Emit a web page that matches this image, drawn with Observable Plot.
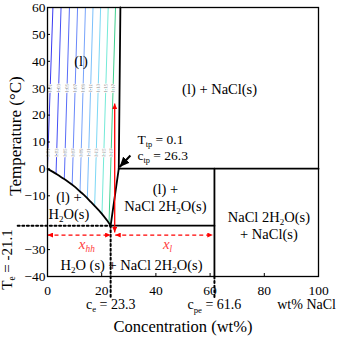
<!DOCTYPE html>
<html><head><meta charset="utf-8">
<script src="https://cdn.jsdelivr.net/npm/d3@7"></script>
<script src="https://cdn.jsdelivr.net/npm/@observablehq/plot@0.6"></script>
<style>
body{margin:0;background:#fff}
#chart svg{font-family:"Liberation Serif",serif;}
</style>
</head><body><div id="chart"></div>
<script>
// ---------- data ----------
const xTicks = [0, 20, 40, 60, 80, 100];
const yTickLabels = [60, 50, 40, 30, 20, 10, 0, -10, -30, -40];

// phase boundaries (wt% NaCl, °C)
const iceCurve = [[0,0],[2,-1.1],[4,-2.4],[6,-3.7],[8,-5.1],[10,-6.6],[12,-8.4],[14,-10.2],[16,-12.3],[18,-14.4],[20,-16.6],[22,-19.2],[23.3,-21.1]];
const haliteCurve = [[26.3,0.1],[26.9,60]];
const hydrohaliteCurve = [[23.3,-21.1],[26.3,0.1]];
const tripleLine = [[26.3,0.1],[100,0.1]];
const eutecticLine = [[23.3,-21.1],[61.6,-21.1]];
const peritecticLine = [[61.6,0.1],[61.6,-40]];

// key values
const Te = -21.1, ce = 23.3, cpe = 61.6;
const dottedTe = [[-11,Te],[ce,Te]];
const dottedCe = [[ce,Te],[ce,-48.2]];
const dottedCpe = [[cpe,-40],[cpe,-48.2]];

// coloured contour lines in the liquid region: top and bottom ends
const contourTopEnds = [[2.0,60],[5.0,60],[8.1,60],[11.1,60],[14.0,60],[16.8,60],[19.6,60],[22.4,60],[25.1,60]];
const contourBottomEnds = [[0,1],[3.15,-1.8],[6.2,-3.8],[9.1,-5.95],[12.0,-8.4],[14.7,-10.9],[17.4,-13.7],[20.1,-16.8],[22.7,-20.1]];
const contourColors = ["#3a3af2","#4550f5","#586cf7","#6a88fa","#78a4fb","#7cc0fb","#7cd8f5","#74ead8","#3fcf8e"];
const contourLabels = ["1.01","1.03","1.05","1.07","1.09","1.11","1.13","1.15","1.17"];
const contourLabelTemps = [30, 6];

// red lever-rule arrows
const leverT = -24.6;
const arrowHH = [[0,leverT],[ce,leverT]];
const arrowL = [[25.0,leverT],[61.0,leverT]];
const arrowV = [[24.8,-23.6],[24.8,24.3]];
const tpArrow = [[30.6,5.0],[26.6,0.7]];

// texts
const regionLabels = [
  {t:"(l)", x:12.4, y:40.3},
  {t:"(l) + NaCl(s)", x:63.5, y:29.9},
  {t:"(l) +\nH_{2}O(s)", x:7.9, y:-13.6},
  {t:"(l) +\nNaCl 2H_{2}O(s)", x:43.5, y:-10.6},
  {t:"NaCl 2H_{2}O(s)\n+ NaCl(s)", x:81.7, y:-20.9},
  {t:"H_{2}O (s) + NaCl 2H_{2}O(s)", x:31.0, y:-35.5}
];
const tpLabels = [
  {t:"T_{tp} = 0.1", x:33.2, y:11.0},
  {t:"c_{tp} = 26.3", x:33.2, y:5.0}
];
const leverLabels = [
  {t:"x_{hh}", x:14.5, y:-27.9},
  {t:"x_{l}", x:44.3, y:-27.9}
];
const keyLabels = [
  {t:"c_{e} = 23.3", x:23.3, y:-50.4},
  {t:"c_{pe} = 61.6", x:61.6, y:-50.6},
  {t:"wt% NaCl", x:95.6, y:-50.6}
];

// ---------- helpers ----------
function triMarker(L, W) {
  return (color, context) => {
    const m = d3.create("svg:marker")
      .attr("viewBox", `${-L} ${-W/2} ${L} ${W}`)
      .attr("markerWidth", L).attr("markerHeight", W)
      .attr("markerUnits", "userSpaceOnUse")
      .attr("refX", 0).attr("refY", 0)
      .attr("orient", "auto-start-reverse")
      .attr("fill", color).attr("stroke", "none");
    m.append("path").attr("d", `M0,0L${-L},${-W/2}L${-L},${W/2}Z`);
    return m.node();
  };
}
const redHead = triMarker(5.5, 5);
const blackHead = triMarker(10, 9);

const contours = contourTopEnds.map((top, i) => ({
  x1: top[0], y1: top[1], x2: contourBottomEnds[i][0], y2: contourBottomEnds[i][1], color: contourColors[i], label: contourLabels[i]
}));
const contourLabelPos = [];
contours.forEach(c => contourLabelTemps.forEach(T => {
  const f = (c.y1 - T) / (c.y1 - c.y2);
  if (f >= 0 && f <= 1) contourLabelPos.push({x: c.x1 + f * (c.x2 - c.x1), y: T, label: c.label});
}));

const pts = a => a.map(([x, y]) => ({x, y}));
const BW = 1.8;

const plot = Plot.plot({
  width: 343, height: 340,
  marginLeft: 47, marginRight: 25, marginTop: 7, marginBottom: 64,
  style: {fontFamily: '"Liberation Serif", serif', fontSize: "13px", color: "black", background: "white", overflow: "visible"},
  x: {domain: [0, 100]},
  y: {domain: [-40, 60]},
  marks: [
    // contour lines
    Plot.link(contours, {x1: "x1", y1: "y1", x2: "x2", y2: "y2", stroke: d => d.color, strokeWidth: 1}),
    Plot.text(contourLabelPos, {x: "x", y: "y", text: "label", rotate: -88, fontSize: 5, fill: "#888", stroke: "white", strokeWidth: 1.5}),
    // boundaries
    Plot.line(pts(iceCurve), {x: "x", y: "y", curve: "natural", stroke: "black", strokeWidth: BW}),
    Plot.line(pts(haliteCurve), {x: "x", y: "y", stroke: "black", strokeWidth: BW}),
    Plot.line(pts(hydrohaliteCurve), {x: "x", y: "y", stroke: "black", strokeWidth: BW}),
    Plot.line(pts(tripleLine), {x: "x", y: "y", stroke: "black", strokeWidth: BW}),
    Plot.line(pts(eutecticLine), {x: "x", y: "y", stroke: "black", strokeWidth: BW}),
    Plot.line(pts(peritecticLine), {x: "x", y: "y", stroke: "black", strokeWidth: BW}),
    // dotted guides
    Plot.line(pts(dottedTe), {x: "x", y: "y", stroke: "black", strokeWidth: 2, strokeDasharray: "2,2.6"}),
    Plot.line(pts(dottedCe), {x: "x", y: "y", stroke: "black", strokeWidth: 2, strokeDasharray: "2,2.6"}),
    Plot.line(pts(dottedCpe), {x: "x", y: "y", stroke: "black", strokeWidth: 2, strokeDasharray: "2,2.6"}),
    // red arrows
    Plot.link([arrowHH, arrowL], {x1: d => d[0][0], y1: d => d[0][1], x2: d => d[1][0], y2: d => d[1][1], stroke: "red", strokeWidth: 1.3, strokeDasharray: "4,3", markerStart: redHead, markerEnd: redHead}),
    Plot.link([arrowV], {x1: d => d[0][0], y1: d => d[0][1], x2: d => d[1][0], y2: d => d[1][1], stroke: "red", strokeWidth: 1.3, markerStart: redHead, markerEnd: redHead}),
    // triple point arrow
    Plot.link([tpArrow], {x1: d => d[0][0], y1: d => d[0][1], x2: d => d[1][0], y2: d => d[1][1], stroke: "black", strokeWidth: 2, markerEnd: blackHead}),
    // frame & axes
    Plot.frame({stroke: "black", strokeWidth: 1.3}),
    Plot.axisX({ticks: xTicks, tickSize: -3, tickPadding: 12, label: null, fontSize: 13.5}),
    Plot.axisY({ticks: yTickLabels, tickSize: -3, tickPadding: 5, label: null, fontSize: 13.5}),
    Plot.text(["Concentration (wt%)"], {frameAnchor: "bottom", dy: 55, fontSize: 16.5}),
    Plot.text(["Temperature (°C)"], {frameAnchor: "left", dx: -32, dy: -6, rotate: -90, fontSize: 17, textAnchor: "middle"}),
    Plot.text(["T_{e} = -21.1"], {frameAnchor: "bottom-left", dx: -36, dy: -17, rotate: -90, fontSize: 15, textAnchor: "middle"}),
    // region labels
    Plot.text(regionLabels, {x: "x", y: "y", text: "t", fontSize: 14.5, lineHeight: 1.16}),
    Plot.text(tpLabels, {x: "x", y: "y", text: "t", fontSize: 13.5, textAnchor: "start"}),
    Plot.text(leverLabels, {x: "x", y: "y", text: "t", fontSize: 15, fontStyle: "italic", fill: "#ff4040"}),
    Plot.text(keyLabels, {x: "x", y: "y", text: "t", fontSize: 14})
  ]
});
document.getElementById("chart").appendChild(plot);

// subscripts: replace "_{...}" with lowered small tspans
(function applySubs(svg) {
  const ns = "http://www.w3.org/2000/svg";
  const els = Array.from(svg.querySelectorAll("text, tspan")).filter(el => el.children.length === 0 && el.textContent.includes("_{"));
  els.forEach(el => {
    const s = el.textContent;
    const fs = parseFloat(getComputedStyle(el).fontSize) || 14;
    const sh = fs * 0.22;
    el.textContent = "";
    const re = /_\{([^}]*)\}/g;
    let last = 0, m, pendingUp = false;
    const addPlain = str => {
      if (!str) return;
      if (pendingUp) {
        const t = document.createElementNS(ns, "tspan");
        t.setAttribute("dy", -sh);
        t.textContent = str;
        el.appendChild(t);
        pendingUp = false;
      } else el.appendChild(document.createTextNode(str));
    };
    while ((m = re.exec(s))) {
      addPlain(s.slice(last, m.index));
      const t = document.createElementNS(ns, "tspan");
      t.setAttribute("dy", sh);
      t.setAttribute("font-size", (fs * 0.62).toFixed(1));
      t.textContent = m[1];
      el.appendChild(t);
      pendingUp = true;
      last = m.index + m[0].length;
    }
    addPlain(s.slice(last));
  });
})(plot);
</script>
</body></html>
